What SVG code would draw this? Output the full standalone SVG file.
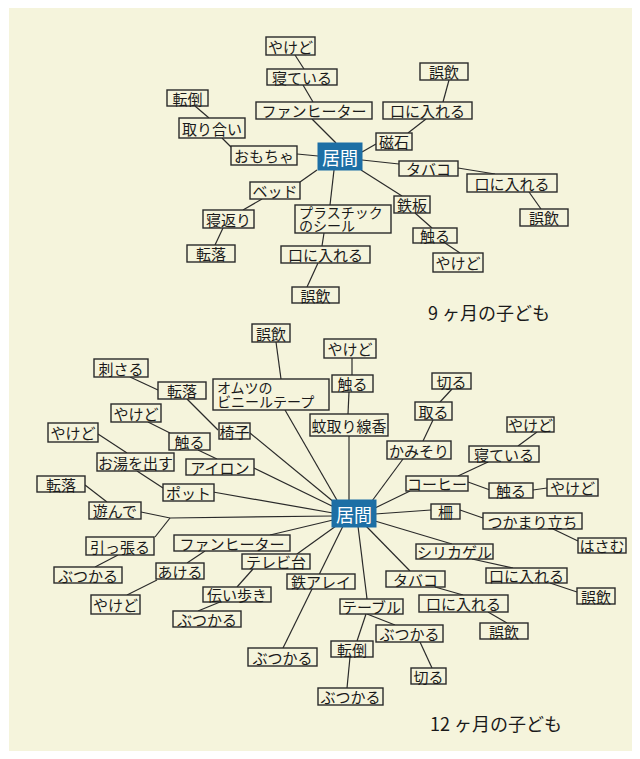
<svg xmlns="http://www.w3.org/2000/svg" width="640" height="759" viewBox="0 0 640 759">
<style>
.bg{fill:#f5f4dc}
.b{fill:#f5f4dc;stroke:#2a2a2a;stroke-width:1.4}
.hub{fill:#1d6fa5;stroke:#1d6fa5}
.t{font-family:"Noto Sans CJK JP","Noto Sans",sans-serif;font-size:15px;fill:#1a1a1a;text-anchor:middle;dominant-baseline:central}
.tl{font-family:"Noto Sans CJK JP","Noto Sans",sans-serif;font-size:14px;fill:#1a1a1a}
.ht{font-family:"Noto Sans CJK JP","Noto Sans",sans-serif;font-size:18px;fill:#ffffff;text-anchor:middle;dominant-baseline:central}
.cap{font-family:"Noto Sans CJK JP","Noto Sans",sans-serif;font-size:18px;fill:#1a1a1a}
#edges line,#edges polyline{stroke:#2a2a2a;stroke-width:1.2;fill:none}
</style>
<rect class="bg" x="9" y="8" width="623" height="743"/>
<g id="edges">
<line x1="295" y1="55" x2="304" y2="69"/>
<line x1="303" y1="85" x2="313" y2="102"/>
<line x1="312" y1="119" x2="336" y2="143"/>
<line x1="195" y1="106" x2="209" y2="118"/>
<line x1="222" y1="138" x2="231" y2="147"/>
<line x1="297" y1="154" x2="318" y2="156"/>
<line x1="449" y1="80" x2="443" y2="102"/>
<line x1="426" y1="119" x2="408" y2="133"/>
<line x1="376" y1="144" x2="362" y2="152"/>
<line x1="362" y1="160" x2="399" y2="164"/>
<line x1="458" y1="168" x2="495" y2="174"/>
<line x1="529" y1="192" x2="541" y2="209"/>
<line x1="361" y1="170" x2="402" y2="196"/>
<line x1="415" y1="213" x2="432" y2="228"/>
<line x1="445" y1="243" x2="460" y2="253"/>
<line x1="317" y1="170" x2="300" y2="182"/>
<line x1="262" y1="199" x2="243" y2="210"/>
<line x1="223" y1="228" x2="215" y2="245"/>
<line x1="334" y1="170" x2="330" y2="205"/>
<line x1="324" y1="233" x2="322" y2="246"/>
<line x1="318" y1="263" x2="307" y2="287"/>

<line x1="130" y1="377" x2="158" y2="390"/>
<line x1="187" y1="399" x2="218" y2="430"/>
<line x1="276" y1="342" x2="281" y2="379"/>
<line x1="285" y1="410" x2="338" y2="502"/>
<line x1="352" y1="358" x2="352" y2="375"/>
<line x1="349" y1="392" x2="348" y2="414"/>
<line x1="349" y1="436" x2="349" y2="500"/>
<line x1="148" y1="422" x2="170" y2="433"/>
<line x1="198" y1="450" x2="217" y2="459"/>
<line x1="250" y1="433" x2="335" y2="503"/>
<line x1="254" y1="468" x2="334" y2="507"/>
<line x1="98" y1="434" x2="127" y2="453"/>
<line x1="137" y1="471" x2="163" y2="488"/>
<line x1="213" y1="492" x2="333" y2="513"/>
<line x1="85" y1="485" x2="107" y2="502"/>
<polyline points="333,516 170,518 141,512"/>
<line x1="170" y1="518" x2="155" y2="537"/>
<line x1="118" y1="555" x2="95" y2="567"/>
<line x1="270" y1="535" x2="333" y2="520"/>
<line x1="205" y1="551" x2="187" y2="563"/>
<line x1="157" y1="580" x2="127" y2="595"/>
<line x1="297" y1="554" x2="336" y2="526"/>
<line x1="253" y1="569" x2="237" y2="587"/>
<line x1="220" y1="602" x2="198" y2="611"/>
<line x1="343" y1="526" x2="283" y2="648"/>
<line x1="358" y1="526" x2="367" y2="599"/>
<line x1="367" y1="614" x2="395" y2="625"/>
<line x1="366" y1="614" x2="357" y2="641"/>
<line x1="350" y1="657" x2="347" y2="688"/>
<line x1="420" y1="642" x2="432" y2="668"/>
<line x1="403" y1="459" x2="372" y2="501"/>
<line x1="433" y1="420" x2="423" y2="441"/>
<line x1="452" y1="389" x2="440" y2="402"/>
<line x1="410" y1="491" x2="375" y2="508"/>
<line x1="537" y1="432" x2="518" y2="446"/>
<line x1="488" y1="462" x2="458" y2="476"/>
<line x1="468" y1="482" x2="490" y2="490"/>
<line x1="533" y1="490" x2="547" y2="488"/>
<line x1="375" y1="514" x2="431" y2="510"/>
<line x1="460" y1="510" x2="483" y2="518"/>
<line x1="553" y1="529" x2="578" y2="541"/>
<line x1="375" y1="521" x2="452" y2="544"/>
<line x1="472" y1="559" x2="513" y2="568"/>
<line x1="550" y1="583" x2="577" y2="592"/>
<line x1="366" y1="526" x2="410" y2="571"/>
<line x1="435" y1="587" x2="463" y2="595"/>
<line x1="488" y1="612" x2="507" y2="623"/>
</g>

<g id="hub9"><rect class="hub" x="318" y="143" width="44" height="27"/><text class="ht" x="340" y="156.5">居間</text></g>
<g id="n9-yakedo1"><rect class="b" x="266" y="37" width="49" height="18"/><text class="t" x="290.5" y="46">やけど</text></g>
<g id="n9-neteiru"><rect class="b" x="267" y="69" width="70" height="16"/><text class="t" x="302" y="77">寝ている</text></g>
<g id="n9-fanheater"><rect class="b" x="256" y="102" width="116" height="17"/><text class="t" x="314" y="110.5">ファンヒーター</text></g>
<g id="n9-tentou"><rect class="b" x="167" y="90" width="41" height="16"/><text class="t" x="187.5" y="98">転倒</text></g>
<g id="n9-toriai"><rect class="b" x="179" y="118" width="66" height="20"/><text class="t" x="212" y="128">取り合い</text></g>
<g id="n9-omocha"><rect class="b" x="231" y="146" width="66" height="19"/><text class="t" x="264" y="155.5">おもちゃ</text></g>
<g id="n9-goin1"><rect class="b" x="420" y="63" width="48" height="17"/><text class="t" x="444" y="71.5">誤飲</text></g>
<g id="n9-kuchi1"><rect class="b" x="383" y="102" width="89" height="17"/><text class="t" x="427.5" y="110.5">口に入れる</text></g>
<g id="n9-jishaku"><rect class="b" x="376" y="133" width="36" height="17"/><text class="t" x="394" y="141.5">磁石</text></g>
<g id="n9-tabako"><rect class="b" x="399" y="161" width="59" height="15"/><text class="t" x="428.5" y="168.5">タバコ</text></g>
<g id="n9-kuchi2"><rect class="b" x="467" y="174" width="90" height="18"/><text class="t" x="512" y="183">口に入れる</text></g>
<g id="n9-goin2"><rect class="b" x="520" y="209" width="48" height="17"/><text class="t" x="544" y="217.5">誤飲</text></g>
<g id="n9-teppan"><rect class="b" x="394" y="196" width="36" height="17"/><text class="t" x="412" y="204.5">鉄板</text></g>
<g id="n9-sawaru"><rect class="b" x="413" y="228" width="44" height="15"/><text class="t" x="435" y="235.5">触る</text></g>
<g id="n9-yakedo2"><rect class="b" x="433" y="253" width="50" height="19"/><text class="t" x="458" y="262.5">やけど</text></g>
<g id="n9-bed"><rect class="b" x="250" y="182" width="50" height="17"/><text class="t" x="275" y="190.5">ベッド</text></g>
<g id="n9-negaeri"><rect class="b" x="203" y="210" width="51" height="18"/><text class="t" x="228.5" y="219">寝返り</text></g>
<g id="n9-tenraku"><rect class="b" x="187" y="245" width="48" height="17"/><text class="t" x="211" y="253.5">転落</text></g>
<g id="n9-seal"><rect class="b" x="295" y="205" width="96" height="28"/><text class="tl" x="299" y="218">プラスチック<tspan x="299" dy="13">のシール</tspan></text></g>
<g id="n9-kuchi3"><rect class="b" x="281" y="246" width="89" height="17"/><text class="t" x="325.5" y="254.5">口に入れる</text></g>
<g id="n9-goin3"><rect class="b" x="292" y="287" width="47" height="16"/><text class="t" x="315.5" y="295">誤飲</text></g>
<g id="cap9"><text class="cap" x="428" y="320">9 ヶ月の子ども</text></g>

<g id="hub12"><rect class="hub" x="332" y="500" width="44" height="27"/><text class="ht" x="354" y="513.5">居間</text></g>
<g id="n12-sasaru"><rect class="b" x="94" y="359" width="54" height="18"/><text class="t" x="121" y="368">刺さる</text></g>
<g id="n12-tenraku1"><rect class="b" x="158" y="382" width="48" height="17"/><text class="t" x="182" y="390.5">転落</text></g>
<g id="n12-omutsu"><rect class="b" x="213" y="379" width="116" height="31"/><text class="tl" x="217" y="393">オムツの<tspan x="217" dy="14">ビニールテープ</tspan></text></g>
<g id="n12-goin1"><rect class="b" x="252" y="324" width="38" height="18"/><text class="t" x="271" y="333">誤飲</text></g>
<g id="n12-yakedo1"><rect class="b" x="324" y="339" width="52" height="19"/><text class="t" x="350" y="348.5">やけど</text></g>
<g id="n12-sawaru1"><rect class="b" x="332" y="375" width="41" height="17"/><text class="t" x="352.5" y="383.5">触る</text></g>
<g id="n12-katori"><rect class="b" x="310" y="414" width="78" height="22"/><text class="t" x="349" y="425">蚊取り線香</text></g>
<g id="n12-yakedo2"><rect class="b" x="111" y="404" width="50" height="18"/><text class="t" x="136" y="413">やけど</text></g>
<g id="n12-sawaru2"><rect class="b" x="169" y="433" width="41" height="17"/><text class="t" x="189.5" y="441.5">触る</text></g>
<g id="n12-isu"><rect class="b" x="219" y="423" width="31" height="16"/><text class="t" x="234.5" y="431">椅子</text></g>
<g id="n12-yakedo3"><rect class="b" x="48" y="423" width="50" height="19"/><text class="t" x="73" y="432.5">やけど</text></g>
<g id="n12-oyu"><rect class="b" x="97" y="453" width="77" height="18"/><text class="t" x="135.5" y="462">お湯を出す</text></g>
<g id="n12-iron"><rect class="b" x="186" y="459" width="68" height="16"/><text class="t" x="220" y="467">アイロン</text></g>
<g id="n12-tenraku2"><rect class="b" x="37" y="476" width="48" height="16"/><text class="t" x="61" y="484">転落</text></g>
<g id="n12-pot"><rect class="b" x="163" y="484" width="51" height="17"/><text class="t" x="188.5" y="492.5">ポット</text></g>
<g id="n12-asonde"><rect class="b" x="89" y="502" width="52" height="17"/><text class="t" x="115" y="510.5">遊んで</text></g>
<g id="n12-hipparu"><rect class="b" x="86" y="537" width="68" height="18"/><text class="t" x="120" y="546">引っ張る</text></g>
<g id="n12-butsukaru1"><rect class="b" x="54" y="567" width="68" height="16"/><text class="t" x="88" y="575">ぶつかる</text></g>
<g id="n12-fanheater"><rect class="b" x="174" y="535" width="116" height="16"/><text class="t" x="232" y="543">ファンヒーター</text></g>
<g id="n12-akeru"><rect class="b" x="156" y="563" width="48" height="16"/><text class="t" x="180" y="571">あける</text></g>
<g id="n12-yakedo4"><rect class="b" x="91" y="595" width="49" height="19"/><text class="t" x="115.5" y="604.5">やけど</text></g>
<g id="n12-terebi"><rect class="b" x="242" y="554" width="68" height="15"/><text class="t" x="276" y="561.5">テレビ台</text></g>
<g id="n12-tsutai"><rect class="b" x="203" y="587" width="68" height="15"/><text class="t" x="237" y="594.5">伝い歩き</text></g>
<g id="n12-butsukaru2"><rect class="b" x="173" y="611" width="68" height="16"/><text class="t" x="207" y="619">ぶつかる</text></g>
<g id="n12-tetsuarei"><rect class="b" x="287" y="574" width="68" height="15"/><text class="t" x="321" y="581.5">鉄アレイ</text></g>
<g id="n12-butsukaru3"><rect class="b" x="248" y="648" width="69" height="18"/><text class="t" x="282.5" y="657">ぶつかる</text></g>
<g id="n12-table"><rect class="b" x="340" y="599" width="63" height="15"/><text class="t" x="371.5" y="606.5">テーブル</text></g>
<g id="n12-butsukaru4"><rect class="b" x="376" y="625" width="67" height="17"/><text class="t" x="409.5" y="633.5">ぶつかる</text></g>
<g id="n12-tentou"><rect class="b" x="331" y="641" width="42" height="16"/><text class="t" x="352" y="649">転倒</text></g>
<g id="n12-butsukaru5"><rect class="b" x="318" y="688" width="65" height="17"/><text class="t" x="350.5" y="696.5">ぶつかる</text></g>
<g id="n12-kiru2"><rect class="b" x="411" y="668" width="35" height="16"/><text class="t" x="428.5" y="676">切る</text></g>
<g id="n12-kiru1"><rect class="b" x="432" y="373" width="39" height="16"/><text class="t" x="451.5" y="381">切る</text></g>
<g id="n12-toru"><rect class="b" x="415" y="402" width="37" height="18"/><text class="t" x="433.5" y="411">取る</text></g>
<g id="n12-kamisori"><rect class="b" x="387" y="441" width="64" height="18"/><text class="t" x="419" y="450">かみそり</text></g>
<g id="n12-coffee"><rect class="b" x="406" y="476" width="62" height="15"/><text class="t" x="437" y="483.5">コーヒー</text></g>
<g id="n12-yakedo5"><rect class="b" x="507" y="417" width="47" height="15"/><text class="t" x="530.5" y="424.5">やけど</text></g>
<g id="n12-neteiru"><rect class="b" x="469" y="446" width="70" height="16"/><text class="t" x="504" y="454">寝ている</text></g>
<g id="n12-sawaru3"><rect class="b" x="489" y="483" width="44" height="15"/><text class="t" x="511" y="490.5">触る</text></g>
<g id="n12-yakedo6"><rect class="b" x="547" y="479" width="51" height="17"/><text class="t" x="572.5" y="487.5">やけど</text></g>
<g id="n12-saku"><rect class="b" x="431" y="504" width="29" height="15"/><text class="t" x="445.5" y="511.5">柵</text></g>
<g id="n12-tsukamari"><rect class="b" x="483" y="513" width="99" height="16"/><text class="t" x="532.5" y="521">つかまり立ち</text></g>
<g id="n12-hasamu"><rect class="b" x="578" y="538" width="48" height="15"/><text class="t" x="602" y="545.5">はさむ</text></g>
<g id="n12-silica"><rect class="b" x="416" y="544" width="77" height="15"/><text class="t" x="454.5" y="551.5">シリカゲル</text></g>
<g id="n12-kuchi1"><rect class="b" x="486" y="568" width="81" height="15"/><text class="t" x="526.5" y="575.5">口に入れる</text></g>
<g id="n12-goin2"><rect class="b" x="577" y="588" width="38" height="16"/><text class="t" x="596" y="596">誤飲</text></g>
<g id="n12-tabako"><rect class="b" x="386" y="571" width="59" height="16"/><text class="t" x="415.5" y="579">タバコ</text></g>
<g id="n12-kuchi2"><rect class="b" x="419" y="595" width="89" height="17"/><text class="t" x="463.5" y="603.5">口に入れる</text></g>
<g id="n12-goin3"><rect class="b" x="480" y="623" width="48" height="16"/><text class="t" x="504" y="631">誤飲</text></g>
<g id="cap12"><text class="cap" x="430" y="731">12 ヶ月の子ども</text></g>
</svg>
